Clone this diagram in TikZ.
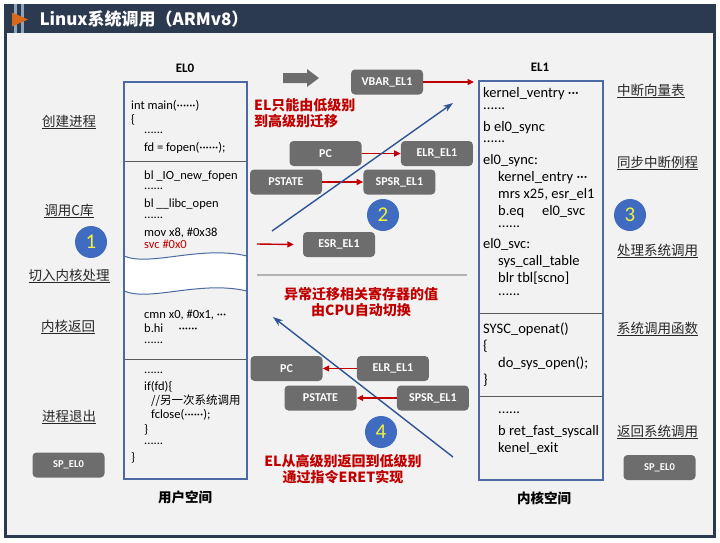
\documentclass[tikz,border=0pt]{standalone}
\usepackage{fontspec}
\setmainfont{Carlito}
\newfontfamily\cjk{Noto Sans CJK SC}
\usepackage{tikz}
\usetikzlibrary{positioning,arrows.meta}
\definecolor{framenavy}{HTML}{2C3A4F}
\definecolor{panelgray}{HTML}{F2F2F2}
\definecolor{regfill}{HTML}{6D6D6D}
\definecolor{boxline}{HTML}{4B6AA3}
\definecolor{alertred}{HTML}{C00000}
\definecolor{flowblue}{HTML}{2F5496}
\definecolor{dotblue}{HTML}{3F6CC0}
\definecolor{dotyellow}{HTML}{F2F23A}
\definecolor{stripe}{HTML}{8EA3BE}
\definecolor{tipbrown}{HTML}{D9681A}
\def\dotsln{\smash{......}}

\begin{document}
\begin{tikzpicture}[x=1pt, y=-1pt,
  regbox/.style={fill=regfill, rounded corners=4pt, minimum width=72pt, minimum height=25pt, inner sep=0pt, text=white, font=\bfseries\fontsize{12}{14}\selectfont},
  numdot/.style={circle, fill=dotblue, minimum size=32pt, inner sep=0pt, text=dotyellow, font=\fontsize{21}{22}\selectfont},
  steplbl/.style={font=\cjk\fontsize{13.5}{15}\selectfont, text=black!85, inner sep=0pt},
  code0/.style={anchor=base west, inner sep=0pt, font=\fontsize{12.5}{14}\selectfont},
  code1/.style={anchor=base west, inner sep=0pt, font=\fontsize{14.5}{16}\selectfont},
  redtxt/.style={text=alertred, font=\cjk\bfseries\fontsize{14}{16}\selectfont, inner sep=0pt},
  redarr/.style={alertred, line width=1.4pt, -{Triangle[length=6.5pt,width=6pt]}},
  bluearr/.style={flowblue, line width=1.4pt, -{Stealth[length=10pt,width=7pt]}}]
\fill[white] (0,0) rectangle (720,542);
\useasboundingbox (0,0) rectangle (720,542);
% frame and title bar
\fill[framenavy] (4,4) rectangle (716,538);
\fill[panelgray] (7,33) rectangle (713,535);
\fill[stripe] (14,4) rectangle (16.5,33);
\fill[stripe] (21,4) rectangle (23.5,33);
\fill[tipbrown] (12,12.5) -- (28,19.5) -- (12,26.5) -- cycle;
\node[anchor=west, text=white, font=\cjk\bfseries\fontsize{17}{19}\selectfont] (title) at (36,19.5) {Linux系统调用（ARMv8）};

% EL0 column
\node[font=\bfseries\fontsize{13}{15}\selectfont] (el0lbl) at (185,68) {EL0};
\fill[white] (124.6,256) .. controls (150,267) and (200,245) .. (246.4,256) -- (246.4,291) .. controls (200,280) and (150,302) .. (124.6,291) -- cycle;
\draw[gray!70!black, line width=0.9pt] (124,161) -- (247,161) (124,359) -- (247,359);
\draw[boxline, line width=1pt] (124,256) .. controls (150,267) and (200,245) .. (247,256);
\draw[boxline, line width=1pt] (124,291) .. controls (150,302) and (200,280) .. (247,291);
\draw[boxline, line width=1.3pt] (124,82) rectangle (247,479);
\foreach \xpos/\ypos/\txt [count=\i] in {%
  131/109/{int main(······)},%
  131/123/{\{},%
  144/133/\dotsln,%
  144/151/{fd = fopen(······);},%
  144/179/{bl \_IO\_new\_fopen},%
  144/189/\dotsln,%
  144/207/{bl \_\_libc\_open},%
  144/218/\dotsln,%
  144/236/{mov x8, \#0x38},%
  144/248/{\color{alertred}svc \#0x0},%
  144/318/{cmn x0, \#0x1, ···},%
  144/332/{b.hi \quad ······},%
  144/343/\dotsln,%
  144/373/\dotsln,%
  144/390/{if(fd)\{},%
  151/404/{\cjk\fontsize{11.5}{13}\selectfont //另一次系统调用},%
  151/418/{fclose(······);},%
  144/433/{\}},%
  144/444/\dotsln,%
  131/461/{\}}%
} {
  \node[code0] (el0c\i) at (\xpos,\ypos) {\txt};
}
\node[font=\cjk\bfseries\fontsize{13.5}{15}\selectfont] (userspace) at (185,497) {用户空间};

% EL1 column
\node[font=\bfseries\fontsize{13}{15}\selectfont] (el1lbl) at (540,67) {EL1};
\draw[gray!70!black, line width=0.9pt] (479,313) -- (603,313) (479,396) -- (603,396);
\draw[boxline, line width=1.3pt] (479,81) rectangle (603,480);
\foreach \xpos/\ypos/\txt [count=\i] in {%
  483/97/{kernel\_ventry ···},%
  483/109/\dotsln,%
  483/131/{b el0\_sync},%
  483/142/\dotsln,%
  483/164/{el0\_sync:},%
  498/181/{kernel\_entry ···},%
  498/198/{mrs x25, esr\_el1},%
  498/215/{b.eq \quad el0\_svc},%
  498/227/\dotsln,%
  483/248/{el0\_svc:},%
  498/265/{sys\_call\_table},%
  498/282/{blr tbl[scno]},%
  498/295/\dotsln,%
  483/333/{SYSC\_openat()},%
  483/350/{\{},%
  498/367/{do\_sys\_open();},%
  483/384/{\}},%
  498/413/\dotsln,%
  498/435/{b ret\_fast\_syscall},%
  498/452/{kenel\_exit}%
} {
  \node[code1] (el1c\i) at (\xpos,\ypos) {\txt};
}
\node[font=\cjk\bfseries\fontsize{13.5}{15}\selectfont] (kernspace) at (544,498) {内核空间};

% step labels
\foreach \nm/\xx/\yy/\lbl in {create/69/122/创建进程, libc/69/211/调用C库, trap/69/276/切入内核处理, back/68/327/内核返回, quit/69/417/进程退出} {
  \node[steplbl] (\nm) at (\xx,\yy) {\underline{\lbl}};
}
\foreach \nm/\yy/\lbl in {vtab/91/中断向量表, sync/163/同步中断例程, hdl/251/处理系统调用, func/329/系统调用函数, ret/432/返回系统调用} {
  \node[steplbl, anchor=west] (\nm) at (617,\yy) {\underline{\lbl}};
}
\node[regbox, font=\bfseries\fontsize{10.5}{12}\selectfont] (spl) at (68.5,465) {SP\_EL0};
\node[regbox, font=\bfseries\fontsize{10.5}{12}\selectfont] (spr) at (659.5,467.5) {SP\_EL0};

\foreach \n/\xx/\yy in {1/91/242, 2/383/215, 3/630/215, 4/381/432} {
  \node[numdot] (num\n) at (\xx,\yy) {\n};
}

% entry into EL1
\fill[regfill] (283,73) -- (307,73) -- (307,69) -- (319,78) -- (307,87) -- (307,83) -- (283,83) -- cycle;
\node[regbox] (vbar) at (387,82) {VBAR\_EL1};
\coordinate (vecin) at (474,82);
\draw[redarr] (vbar) -- (vecin);
\node[redtxt, anchor=west, align=left] (uptxt) at (254,113.5) {EL只能由低级别\\到高级别迁移};
\node[regbox] (pcup) at (325.5,153.5) {PC};
\node[regbox, right=39pt of pcup] (elrup) {ELR\_EL1};
\node[regbox] (psup) at (286,182) {PSTATE};
\node[regbox, right=41pt of psup] (spsrup) {SPSR\_EL1};
\node[regbox] (esr) at (339,244.5) {ESR\_EL1};
\draw[redarr] (pcup) -- (elrup);
\draw[redarr] (psup) -- (spsrup);
\coordinate (svcout) at (257,244);
\draw[redarr] (svcout) -- ([xshift=-9pt]esr.west);
\coordinate (up0) at (272,231);
\coordinate (up1) at (453,103);
\draw[bluearr] (up0) -- (up1);

\coordinate (sepl) at (257,275);
\coordinate (sepr) at (467,275);
\draw[gray!60, line width=1.3pt] (sepl) -- (sepr);
\node[redtxt, align=center] (midtxt) at (361,302.5) {异常迁移相关寄存器的值\\由CPU自动切换};

% return to EL0
\coordinate (dn0) at (453,457);
\coordinate (dn1) at (273,317);
\draw[bluearr] (dn0) -- (dn1);
\node[regbox] (pcdn) at (286.5,368.5) {PC};
\node[regbox, right=34pt of pcdn] (elrdn) {ELR\_EL1};
\node[regbox] (psdn) at (320.5,398) {PSTATE};
\node[regbox, right=40pt of psdn] (spsrdn) {SPSR\_EL1};
\draw[redarr] (elrdn) -- (pcdn);
\draw[redarr] (spsrdn) -- (psdn);
\node[redtxt, align=center] (dntxt) at (343,469) {EL从高级别返回到低级别\\通过指令ERET实现};
\end{tikzpicture}
\end{document}
